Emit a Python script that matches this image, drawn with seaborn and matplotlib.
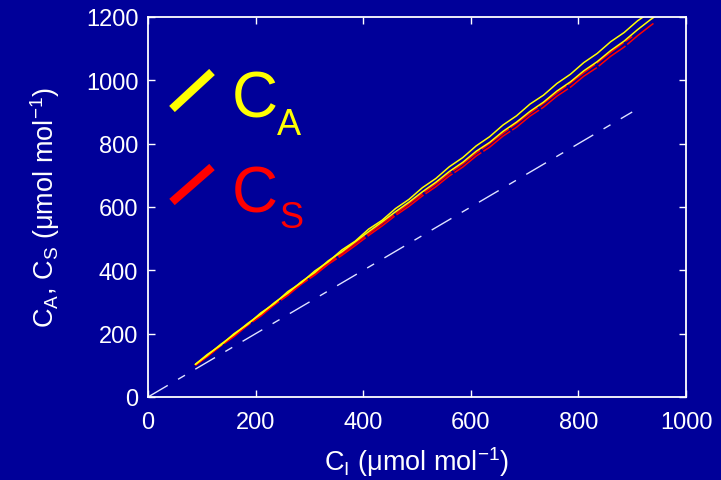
import numpy as np
import pandas as pd
import matplotlib
matplotlib.use("Agg")
import matplotlib.pyplot as plt
from matplotlib.lines import Line2D
import seaborn as sns

# ---- data ----
x_grid = [88, 110, 135, 160, 185, 210, 235, 260, 285, 310, 335, 360, 385, 410, 435,
          460, 485, 510, 535, 560, 585, 610, 635, 660, 685, 710, 735, 760, 785, 810,
          835, 860, 885, 910, 935]
ca_1 = [103, 134, 163, 200, 229, 266, 295, 333, 361, 398, 427, 464, 492, 530, 558,
        595, 624, 661, 690, 727, 756, 793, 822, 859, 888, 925, 953, 990, 1019, 1056,
        1085, 1122, 1151, 1188, 1217]
ca_2_x = x_grid + [960]
ca_2 = [103, 131, 166, 197, 232, 262, 298, 328, 364, 393, 430, 458, 490, 522, 553,
        585, 615, 648, 678, 712, 741, 776, 804, 839, 868, 902, 931, 966, 995, 1030,
        1059, 1094, 1124, 1160, 1193, 1222]
cs_1_x = x_grid[:33] + [900]
cs_1 = [100, 128, 162, 193, 228, 258, 293, 324, 359, 389, 424, 453, 485, 516, 548,
        579, 610, 642, 673, 706, 736, 770, 800, 833, 864, 896, 927, 960, 991, 1024,
        1055, 1088, 1120, 1138]
cs_2_x = x_grid + [943]
cs_2 = [100, 127, 161, 191, 226, 256, 291, 321, 356, 385, 419, 447, 478, 510, 540,
        573, 602, 635, 664, 698, 726, 761, 789, 824, 852, 887, 915, 950, 978, 1013,
        1041, 1076, 1105, 1141, 1174, 1184]
one_to_one = [0, 900]

x_ticks = [0, 200, 400, 600, 800, 1000]
y_ticks = [0, 200, 400, 600, 800, 1000, 1200]

BG = "#000099"
sns.set_style("white", {"axes.facecolor": BG, "figure.facecolor": BG})
plt.rcParams["font.family"] = ["Liberation Sans", "DejaVu Sans"]
plt.rcParams["mathtext.fontset"] = "custom"
plt.rcParams["mathtext.rm"] = "Liberation Sans"
plt.rcParams["mathtext.it"] = "Liberation Sans"

fig = plt.figure(figsize=(7.21, 4.81), dpi=100)
fig.patch.set_facecolor(BG)
ax = fig.add_axes([148 / 721, 1 - 398 / 481, 538 / 721, 380 / 481])
ax.set_facecolor(BG)

# 1:1 reference line
sns.lineplot(x=one_to_one, y=one_to_one, ax=ax, color="#dfe3ff", lw=1.0,
             linestyle=(0, (16.5, 8.6, 5.8, 8.6)), estimator=None, sort=False)

# CS (red) drawn beneath CA (yellow)
for xs, ys in [(cs_2_x, cs_2), (cs_1_x, cs_1)]:
    sns.lineplot(x=xs, y=ys, ax=ax, color="#ff0000", lw=1.1,
                 linestyle=(0, (22, 1.5)), estimator=None, sort=False)
for xs, ys in [(ca_2_x, ca_2), (x_grid, ca_1)]:
    sns.lineplot(x=xs, y=ys, ax=ax, color="#ffff00", lw=1.1,
                 estimator=None, sort=False)

ax.set_xlim(0, 1000)
ax.set_ylim(0, 1200)
ax.set_xticks(x_ticks)
ax.set_yticks(y_ticks)
ax.tick_params(axis="both", which="both", direction="in", length=5, width=1,
               color="white", labelcolor="white", labelsize=17,
               top=True, right=True, bottom=True, left=True)
ax.tick_params(axis="x", pad=10)
ax.tick_params(axis="y", pad=7)
for s in ax.spines.values():
    s.set_color("white")
    s.set_linewidth(1.3)
    s.set_visible(True)

ax.set_xlabel(r"C$_\mathregular{I}$ ($\mathregular{\mu}$mol mol$^\mathregular{-1}$)",
              color="white", fontsize=19.5, labelpad=8)
ax.set_ylabel(r"C$_\mathregular{A}$, C$_\mathregular{S}$ ($\mathregular{\mu}$mol mol$^\mathregular{-1}$)",
              color="white", fontsize=19.5, labelpad=17)

# in-plot legend
def px(x, y):
    return x / 721, 1 - y / 481

fig.add_artist(Line2D(*zip(px(172, 110), px(212, 73)), lw=6, color="#ffff00",
                      solid_capstyle="butt"))
fig.add_artist(Line2D(*zip(px(172, 203), px(212, 168)), lw=6, color="#ff0000",
                      solid_capstyle="butt"))
fig.text(*px(232, 118), "C", color="#ffff00", fontsize=46, ha="left", va="baseline")
fig.text(*px(277, 135), "A", color="#ffff00", fontsize=26, ha="left", va="baseline")
fig.text(*px(232, 213), "C", color="#ff0000", fontsize=46, ha="left", va="baseline")
fig.text(*px(279, 228), "S", color="#ff0000", fontsize=26, ha="left", va="baseline")

fig.savefig("out.png", dpi=100, facecolor=BG)
